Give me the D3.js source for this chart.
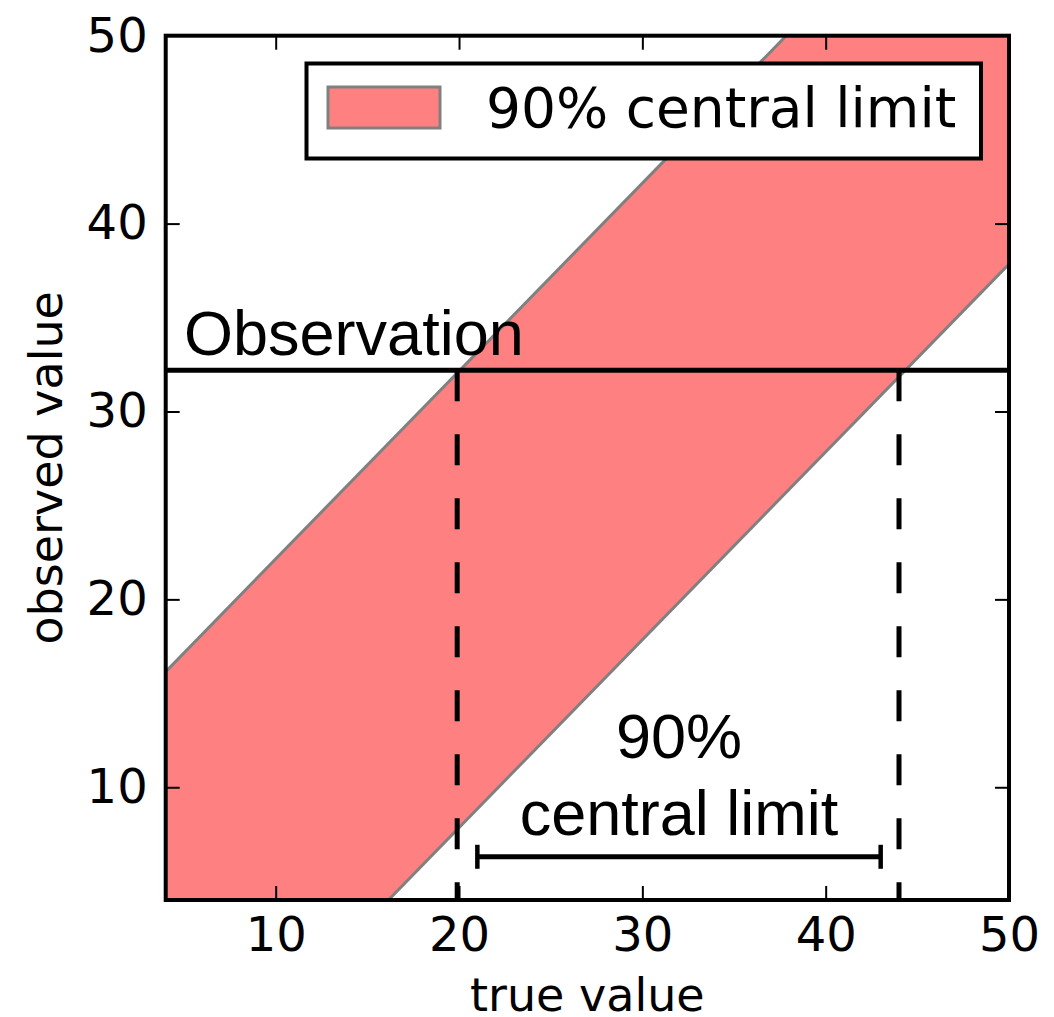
<!DOCTYPE html>
<html>
<head>
<meta charset="utf-8">
<script src="https://cdn.jsdelivr.net/npm/d3@7"></script>
<style>
  html, body { margin: 0; padding: 0; background: #fff; }
  svg { display: block; }
</style>
</head>
<body>
<svg id="chart" width="1054" height="1017"></svg>
<script>
// Axis domains and ticks
const xDomain = [4, 50];
const yDomain = [4, 50];
const xTicks = [10, 20, 30, 40, 50];
const yTicks = [10, 20, 30, 40, 50];

// Confidence band: true value ± half-width gives the observed range
const bandX = [4, 50];
const bandHalfWidth = 12.15;

// Single measured value and the true-value interval it implies
const observation = 32.2;
const intervalBounds = [19.9, 44.0];
const errorBarX = [21, 43];
const errorBarY = 6.3;

// Text labels
const legendLabel = "90% central limit";
const obsLabel = "Observation";
const obsLabelPos = [5, 33];
const intervalLabel = ["90%", "central limit"];
const intervalLabelX = 32;
const intervalLabelY = [11.56, 7.46];
const xTitle = "true value";
const yTitle = "observed value";

const W = 1054, H = 1017;
const plot = { left: 165.7, top: 35.7, right: 1009, bottom: 900 };

const svg = d3.select("#chart");
const x = d3.scaleLinear().domain(xDomain).range([plot.left, plot.right]);
const y = d3.scaleLinear().domain(yDomain).range([plot.bottom, plot.top]);

const tickFont = "'DejaVu Sans', sans-serif";
const annoFont = "'Liberation Sans', Arial, sans-serif";

svg.append("defs").append("clipPath").attr("id", "plotclip")
  .append("rect")
  .attr("x", plot.left).attr("y", plot.top)
  .attr("width", plot.right - plot.left).attr("height", plot.bottom - plot.top);

const g = svg.append("g").attr("clip-path", "url(#plotclip)");

// Shaded band
const area = d3.area()
  .x(d => x(d))
  .y0(d => y(d - bandHalfWidth))
  .y1(d => y(d + bandHalfWidth));
g.append("path")
  .datum(bandX)
  .attr("d", area)
  .attr("fill", "#ff8080")
  .attr("stroke", "none");
const edge = d3.line().x(d => x(d[0])).y(d => y(d[1]));
[-1, 1].forEach(s => {
  g.append("path")
    .datum(bandX.map(v => [v, v + s * bandHalfWidth]))
    .attr("d", edge)
    .attr("fill", "none")
    .attr("stroke", "#808080")
    .attr("stroke-width", 3);
});

// Dashed drops from the observation to the axis
intervalBounds.forEach(v => {
  g.append("line")
    .attr("x1", x(v)).attr("x2", x(v))
    .attr("y1", y(observation)).attr("y2", y(yDomain[0]) + 40)
    .attr("stroke", "#000")
    .attr("stroke-width", 5)
    .attr("stroke-dasharray", "31,33");
});

// Observation line
g.append("line")
  .attr("x1", x(xDomain[0])).attr("x2", x(xDomain[1]))
  .attr("y1", y(observation)).attr("y2", y(observation))
  .attr("stroke", "#000").attr("stroke-width", 5);

// Interval bar with end caps
g.append("line")
  .attr("x1", x(errorBarX[0])).attr("x2", x(errorBarX[1]))
  .attr("y1", y(errorBarY)).attr("y2", y(errorBarY))
  .attr("stroke", "#000").attr("stroke-width", 5);
errorBarX.forEach(v => {
  g.append("line")
    .attr("x1", x(v)).attr("x2", x(v))
    .attr("y1", y(errorBarY) - 12).attr("y2", y(errorBarY) + 12)
    .attr("stroke", "#000").attr("stroke-width", 4.5);
});

// Annotations
svg.append("text")
  .attr("x", x(obsLabelPos[0])).attr("y", y(obsLabelPos[1]))
  .attr("font-family", annoFont).attr("font-size", 63)
  .attr("fill", "#000")
  .text(obsLabel);
intervalLabel.forEach((t, i) => {
  svg.append("text")
    .attr("x", x(intervalLabelX)).attr("y", y(intervalLabelY[i]))
    .attr("text-anchor", "middle")
    .attr("font-family", annoFont).attr("font-size", 63)
    .attr("fill", "#000")
    .text(t);
});

// Axes: inward ticks on all four sides, labels bottom and left
const tickLen = 14;
const innerX = xTicks.filter(v => v > xDomain[0] && v < xDomain[1]);
const innerY = yTicks.filter(v => v > yDomain[0] && v < yDomain[1]);

const axB = svg.append("g").attr("transform", `translate(0,${plot.bottom})`)
  .call(d3.axisBottom(x).tickValues(xTicks).tickSize(-tickLen).tickPadding(17).tickSizeOuter(0));
const axT = svg.append("g").attr("transform", `translate(0,${plot.top})`)
  .call(d3.axisTop(x).tickValues(innerX).tickSize(-tickLen).tickFormat("").tickSizeOuter(0));
const axL = svg.append("g").attr("transform", `translate(${plot.left},0)`)
  .call(d3.axisLeft(y).tickValues(yTicks).tickSize(-tickLen).tickPadding(18).tickSizeOuter(0));
const axR = svg.append("g").attr("transform", `translate(${plot.right},0)`)
  .call(d3.axisRight(y).tickValues(innerY).tickSize(-tickLen).tickFormat("").tickSizeOuter(0));

[axB, axT, axL, axR].forEach(a => {
  a.select(".domain").remove();
  a.selectAll(".tick line").attr("stroke", "#000").attr("stroke-width", 2);
  a.selectAll(".tick text").attr("font-family", tickFont).attr("font-size", 48).attr("fill", "#000");
});
// edge-position ticks coincide with the frame
axB.selectAll(".tick").filter(d => d === xDomain[1]).select("line").remove();
axL.selectAll(".tick").filter(d => d === yDomain[1]).select("line").remove();

// Frame
svg.append("rect")
  .attr("x", plot.left).attr("y", plot.top)
  .attr("width", plot.right - plot.left).attr("height", plot.bottom - plot.top)
  .attr("fill", "none").attr("stroke", "#000").attr("stroke-width", 4);

// Axis titles
svg.append("text")
  .attr("x", (plot.left + plot.right) / 2).attr("y", 1011)
  .attr("text-anchor", "middle")
  .attr("font-family", tickFont).attr("font-size", 46)
  .text(xTitle);
svg.append("text")
  .attr("transform", `translate(62,${(plot.top + plot.bottom) / 2}) rotate(-90)`)
  .attr("text-anchor", "middle")
  .attr("font-family", tickFont).attr("font-size", 46)
  .text(yTitle);

// Legend
const leg = svg.append("g");
leg.append("rect")
  .attr("x", 306.5).attr("y", 63.5).attr("width", 674.5).attr("height", 95)
  .attr("fill", "#fff").attr("stroke", "#000").attr("stroke-width", 4);
leg.append("rect")
  .attr("x", 328).attr("y", 87).attr("width", 112).attr("height", 41)
  .attr("fill", "#ff8080").attr("stroke", "#808080").attr("stroke-width", 3);
leg.append("text")
  .attr("x", 486).attr("y", 127)
  .attr("font-family", tickFont).attr("font-size", 55)
  .attr("fill", "#000")
  .text(legendLabel);
</script>
</body>
</html>
